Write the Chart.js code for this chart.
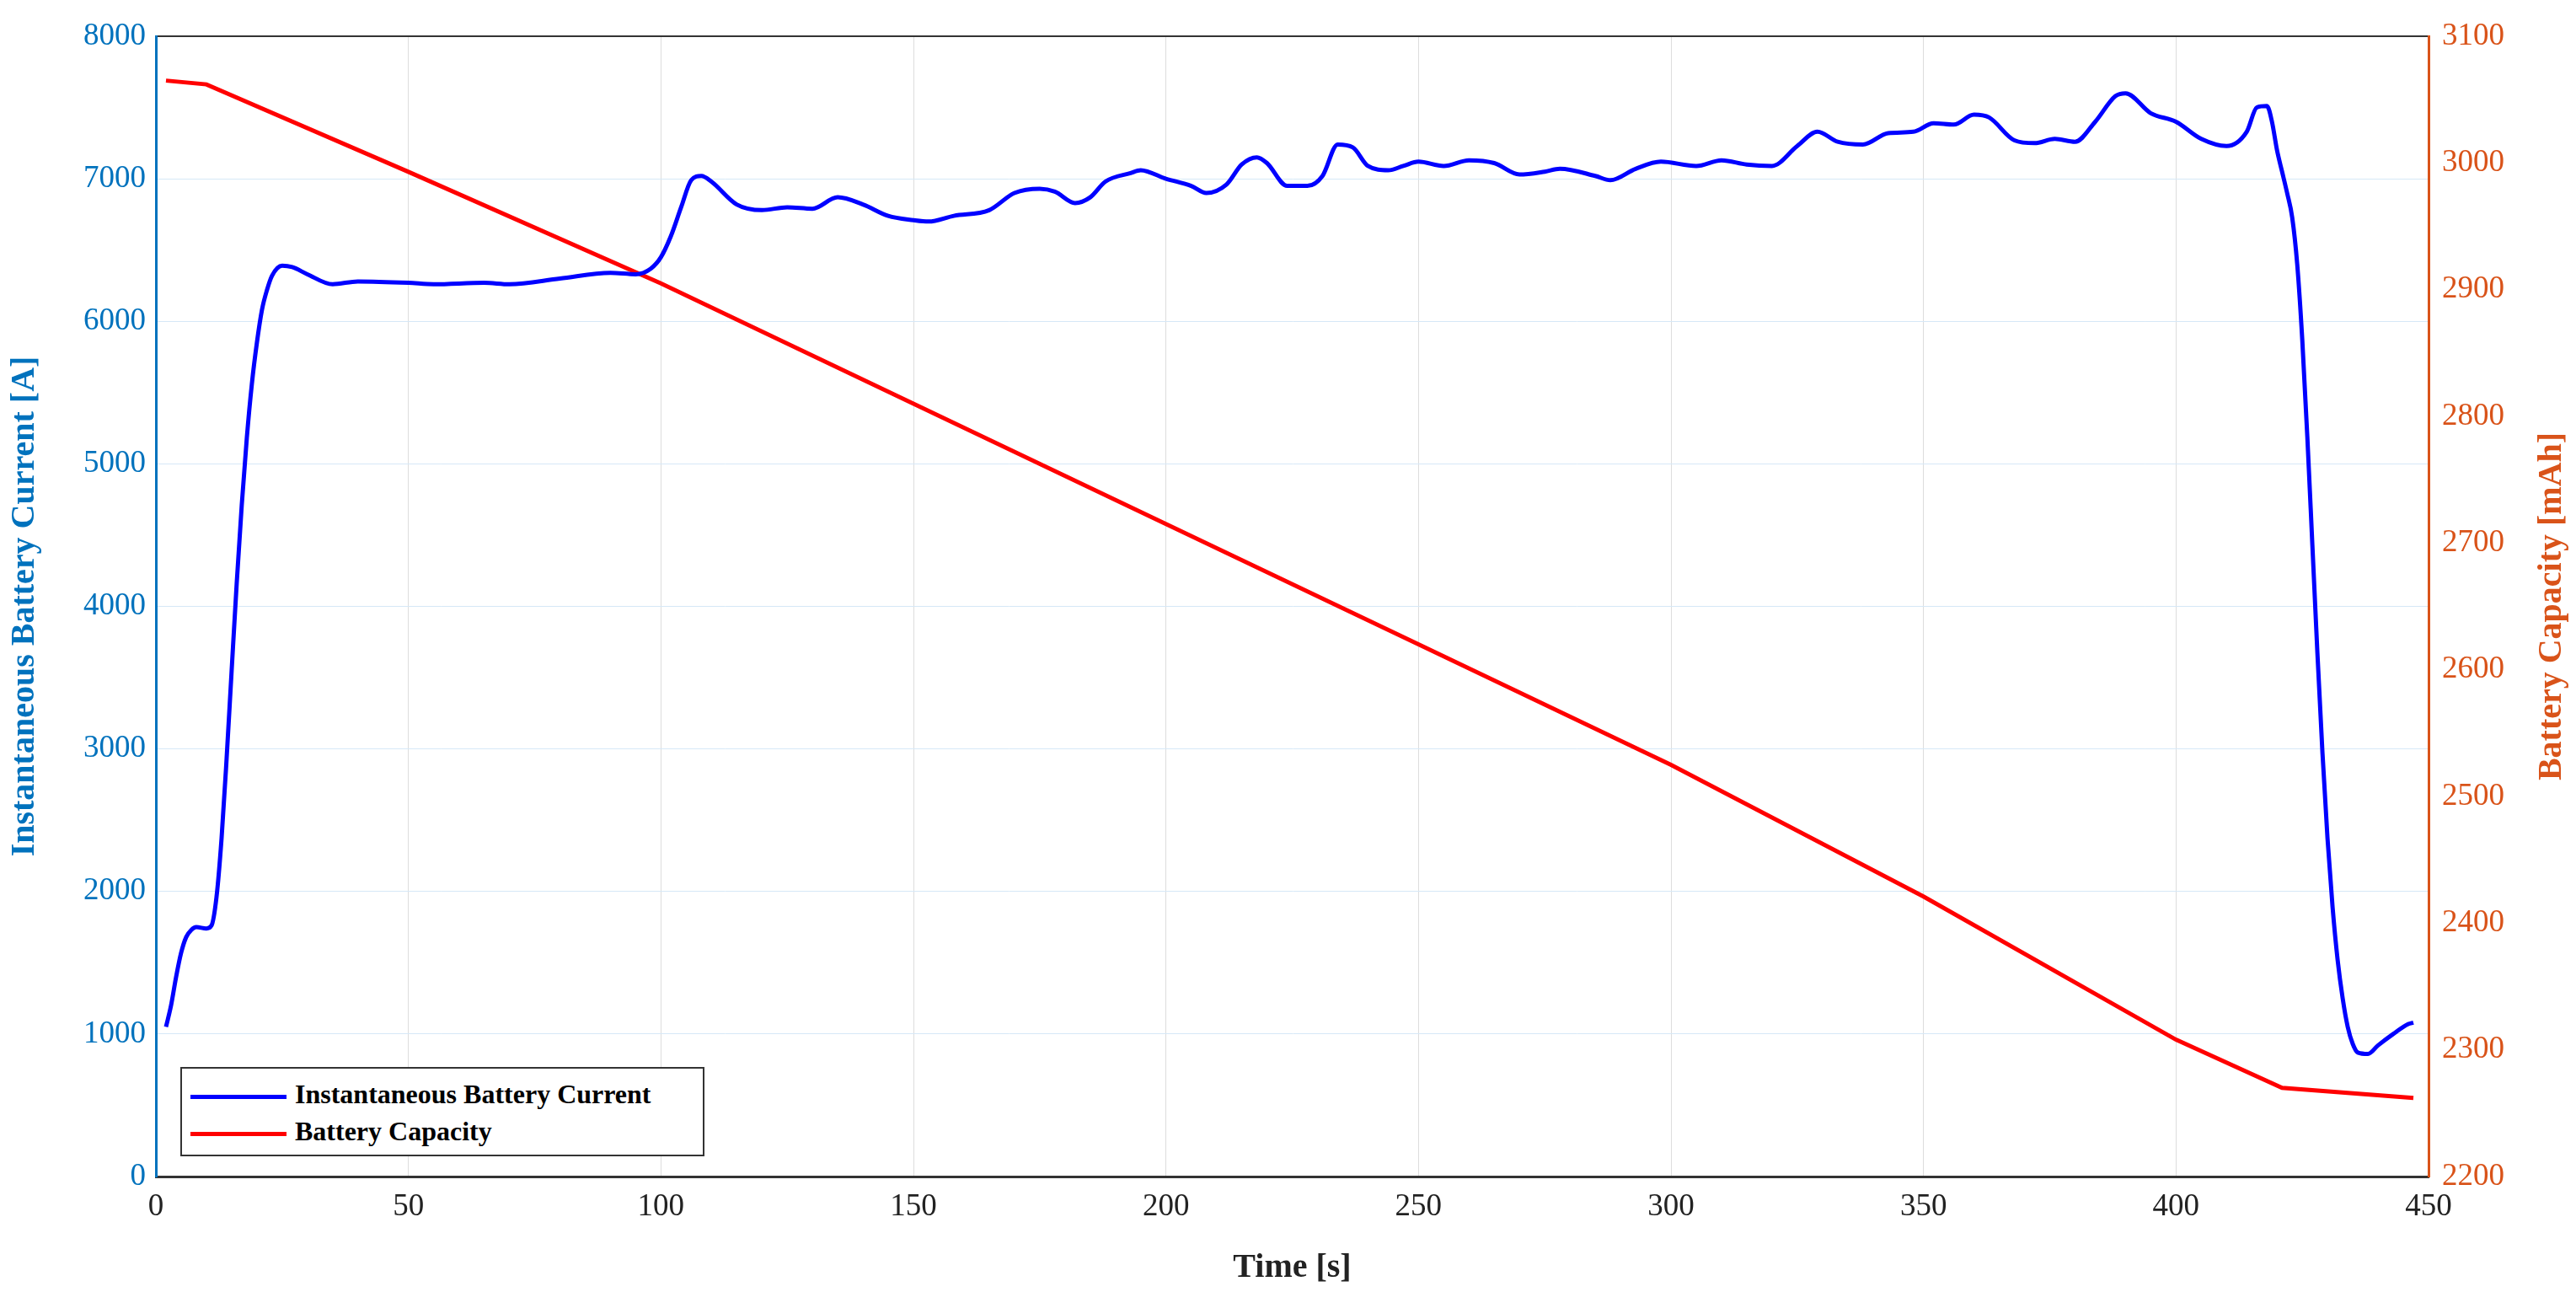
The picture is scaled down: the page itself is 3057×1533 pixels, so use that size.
<!DOCTYPE html>
<html>
<head>
<meta charset="utf-8">
<script src="https://cdn.jsdelivr.net/npm/chart.js@4"></script>
<style>
  body { margin: 0; background: #fff; }
  #wrap { position: relative; width: 3057px; height: 1533px; }
  #legend {
    position: absolute; left: 214px; top: 1266px; width: 622px; height: 106px;
    border: 2px solid #333; background: #fff; font-family: "Liberation Serif", serif;
    font-weight: bold; font-size: 32px; box-sizing: border-box; padding: 8px 10px;
  }
  #legend div { height: 44px; line-height: 44px; white-space: nowrap; }
  #legend span { display: inline-block; width: 114px; height: 5px; vertical-align: middle; margin-right: 10px; }
</style>
</head>
<body>
<div id="wrap">
  <canvas id="myChart" width="3057" height="1533"></canvas>
  <div id="legend">
    <div><span style="background:#0000ff"></span>Instantaneous Battery Current</div>
    <div><span style="background:#ff0000"></span>Battery Capacity</div>
  </div>
</div>
<script>
var currentTime = [2,3,4,5,6,7,8,10,11,12,13,14,15,16,17,18,19,20,21,22,23,25,27,30,35,40,50,55,65,70,80,90,95,98,100,102,104,106,108,110,115,120,125,130,135,140,145,150,153,158,165,170,175,178,182,185,188,193,195,200,205,208,212,215,218,220,224,228,231,234,237,240,244,247,250,255,260,265,270,275,278,285,288,293,298,305,310,315,320,325,329,333,338,343,348,352,356,360,363,368,372,376,380,384,388,390,395,400,405,410,414,416,418,419,420,421,422,423,424,425,426,427,428,429,430,431,432,433,434,435,436,438,440,443,446,447];
var currentValues = [1050,1200,1400,1570,1680,1730,1750,1740,1760,1960,2370,2930,3550,4160,4710,5180,5560,5850,6080,6220,6320,6390,6380,6330,6260,6280,6270,6260,6270,6260,6300,6340,6330,6370,6450,6600,6800,6990,7020,6980,6820,6780,6800,6790,6870,6820,6740,6710,6700,6740,6780,6900,6930,6910,6830,6870,6980,7040,7060,7000,6950,6900,6960,7100,7150,7110,6950,6950,7020,7240,7220,7090,7060,7090,7120,7090,7130,7110,7030,7050,7070,7020,6990,7070,7120,7090,7130,7100,7090,7230,7330,7260,7240,7320,7330,7390,7380,7450,7430,7270,7250,7280,7260,7400,7580,7600,7460,7400,7280,7230,7330,7500,7510,7400,7200,7050,6900,6730,6400,5870,5190,4430,3670,2970,2370,1890,1520,1250,1050,930,870,860,920,1000,1070,1080];
var capacityTime = [2,10,50,100,150,200,250,300,350,400,421,447];
var capacityValues = [3065,3062,2993,2905,2810,2715,2620,2525,2421,2308,2270,2262];
var xTicks = [0,50,100,150,200,250,300,350,400,450];

var blue = '#0072BD', orange = '#D95319';
var font = { family: 'Liberation Serif', size: 37 };
var titleFont = { family: 'Liberation Serif', size: 40, weight: 'bold' };

function pts(t, v) {
    var out = [];
    for (var i = 0; i < t.length; i++) out.push({ x: t[i], y: v[i] });
    return out;
}
function plain(v) { return String(v); }

// right axis title, read bottom to top like the left one
var rightTitle = {
    id: 'rightTitle',
    afterDraw: function (chart) {
        var c = chart.ctx, a = chart.chartArea;
        c.save();
        c.translate(3057 - 28, (a.top + a.bottom) / 2);
        c.rotate(-Math.PI / 2);
        c.fillStyle = orange;
        c.font = 'bold 40px "Liberation Serif"';
        c.textAlign = 'center';
        c.textBaseline = 'middle';
        c.fillText('Battery Capacity [mAh]', 0, 0);
        c.restore();
    }
};

const ctx = document.getElementById('myChart').getContext('2d');
const myChart = new Chart(ctx, {
    type: 'line',
    data: {
        datasets: [{
            label: 'Instantaneous Battery Current',
            data: pts(currentTime, currentValues),
            borderColor: '#0000ff', borderWidth: 5, pointRadius: 0, yAxisID: 'y',
            cubicInterpolationMode: 'monotone'
        }, {
            label: 'Battery Capacity',
            data: pts(capacityTime, capacityValues),
            borderColor: '#ff0000', borderWidth: 5, pointRadius: 0, yAxisID: 'y1'
        }]
    },
    plugins: [rightTitle],
    options: {
        responsive: false, animation: false,
        layout: { padding: { top: 43, left: 0, right: 0, bottom: 0 } },
        plugins: { legend: { display: false }, tooltip: { enabled: false } },
        scales: {
            x: {
                type: 'linear', min: 0, max: 450,
                afterBuildTicks: function (s) { s.ticks = xTicks.map(function (v) { return { value: v }; }); },
                afterFit: function (s) { s.height = 137; },
                ticks: { color: '#222', font: font, padding: 14, maxRotation: 0, callback: plain },
                grid: { color: '#dddddd', drawTicks: false },
                border: { color: '#333', width: 3 },
                title: { display: true, text: 'Time [s]', color: '#222', font: titleFont, padding: { top: 4 } }
            },
            xTop: {
                type: 'linear', position: 'top', min: 0, max: 450,
                ticks: { display: false }, grid: { display: false, drawTicks: false },
                border: { color: '#333', width: 2 },
                afterFit: function (s) { s.height = 0; }
            },
            y: {
                position: 'left', min: 0, max: 8000,
                ticks: { stepSize: 1000, color: blue, font: font, padding: 12, callback: plain },
                grid: { color: '#d6e8f7', drawTicks: false },
                border: { color: blue, width: 3 },
                afterFit: function (s) { s.width = 185; },
                title: { display: true, text: 'Instantaneous Battery Current [A]', color: blue, font: titleFont, padding: 6 }
            },
            y1: {
                position: 'right', min: 2200, max: 3100,
                ticks: { stepSize: 100, color: orange, font: font, padding: 16, callback: plain },
                grid: { display: false, drawTicks: false },
                border: { color: orange, width: 3 },
                afterFit: function (s) { s.width = 175; }
            }
        }
    }
});
</script>
</body>
</html>
